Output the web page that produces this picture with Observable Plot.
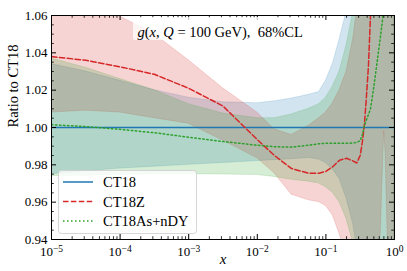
<!DOCTYPE html>
<html><head><meta charset="utf-8">
<script src="https://cdn.jsdelivr.net/npm/d3@7"></script>
<script src="https://cdn.jsdelivr.net/npm/@observablehq/plot@0.6"></script>
<style>
html,body{margin:0;padding:0;background:#fff;}
#chart{position:relative;width:407px;height:271px;}
#chart svg, #chart svg text{font-family:"Liberation Serif", serif !important;}
</style></head><body><div id="chart"></div>
<script>
// x grid (momentum fraction)
const xs = [1e-5, 3.16e-5, 1e-4, 3.16e-4, 1e-3, 3.16e-3, 0.01, 0.0178, 0.0316, 0.0562, 0.0794, 0.1, 0.126, 0.158, 0.2, 0.251, 0.282, 0.316, 0.339, 0.363, 0.389, 0.417, 0.447, 0.501, 0.562, 0.631, 0.708, 0.741, 0.776, 0.813, 0.851, 0.891, 1.0];

// CT18 band (ratio to CT18)
const ct18Hi = [1.034, 1.030, 1.025, 1.020, 1.016, 1.0135, 1.013, 1.014, 1.0155, 1.0175, 1.019, 1.025, 1.034, 1.047, 1.062, 1.08, 1.08, 1.08, 1.08, 1.08, 1.08, 1.08, 1.08, 1.08, 1.08, 1.08, 1.08, 1.08, 1.08, 1.08, 1.08, 1.08, 1.08];
const ct18Lo = [0.975, 0.9765, 0.978, 0.979, 0.980, 0.981, 0.982, 0.9825, 0.983, 0.9837, 0.9828, 0.981, 0.9775, 0.9725, 0.962, 0.948, 0.936, 0.92, 0.92, 0.92, 0.92, 0.92, 0.92, 0.92, 0.92, 0.92, 0.92, 0.92, 0.92, 0.92, 0.92, 0.92, 0.92];
const ct18Mid = [1, 1, 1, 1, 1, 1, 1, 1, 1, 1, 1, 1, 1, 1, 1, 1, 1, 1, 1, 1, 1, 1, 1, 1, 1, 1, 1, 1, 1, 1, 1, 1, 1];

// CT18Z
const ct18zMid = [1.038, 1.036, 1.0325, 1.0285, 1.021, 1.0115, 0.9935, 0.985, 0.978, 0.9755, 0.9755, 0.9765, 0.979, 0.9825, 0.9835, 0.982, 0.981, 0.985, 0.992, 1.001, 1.016, 1.033, 1.06, 1.09, null, null, null, null, null, null, null, null, null];
const ct18zHi = [1.068, 1.066, 1.0595, 1.050, 1.036, 1.021, 1.008, 0.999, 0.996, 1.001, 1.005, 1.008, 1.013, 1.020, 1.030, 1.048, 1.062, 1.08, 1.08, 1.08, 1.08, 1.08, 1.08, 1.08, 1.08, 1.08, 1.08, 1.08, 1.08, 1.08, 1.08, 1.08, 1.08];
const ct18zLo = [1.008, 1.009, 1.008, 1.005, 1.002, 0.993, 0.9835, 0.9755, 0.964, 0.961, 0.960, 0.958, 0.953, 0.943, 0.93, 0.92, 0.92, 0.92, 0.92, 0.92, 0.92, 0.92, 0.92, 0.92, 0.92, 0.944, 0.998, 0.986, 0.957, 0.928, 0.92, 0.92, 0.92];

// CT18As+nDY
const asMid = [1.0015, 1.0005, 0.999, 0.9972, 0.9948, 0.9925, 0.9905, 0.9897, 0.9895, 0.9905, 0.9913, 0.9915, 0.9915, 0.9915, 0.9915, 0.9917, 0.992, 0.993, 0.996, 1.001, 1.004, 1.007, 1.010, 1.022, 1.036, 1.050, 1.065, null, null, null, null, null, null];
const asHi = [1.037, 1.032, 1.026, 1.020, 1.0125, 1.0075, 1.005, 1.005, 1.007, 1.010, 1.0125, 1.016, 1.022, 1.030, 1.044, 1.062, 1.075, 1.08, 1.08, 1.08, 1.08, 1.08, 1.08, 1.08, 1.08, 1.08, 1.08, 1.08, 1.08, 1.08, 1.08, 1.08, 1.08];
const asLo = [0.974, 0.9742, 0.9745, 0.975, 0.975, 0.9748, 0.9745, 0.9735, 0.972, 0.971, 0.970, 0.968, 0.965, 0.960, 0.951, 0.938, 0.925, 0.92, 0.92, 0.92, 0.92, 0.92, 0.92, 0.92, 0.92, 0.92, 0.92, 0.92, 0.92, 0.92, 0.92, 0.92, 0.92];

const seriesNames = ["CT18", "CT18Z", "CT18As+nDY"];
const seriesColors = ["#1f77b4", "#d62728", "#2ca02c"];
const seriesDash = [null, "5.5,2.4", "1.5,2.5"];

const xMajor = [1e-5, 1e-4, 1e-3, 1e-2, 1e-1, 1];
const yMajor = [0.94, 0.96, 0.98, 1.00, 1.02, 1.04, 1.06];
const titleText = "g(x, Q = 100 GeV),  68%CL";
const yLabel = "Ratio to CT18";
const xLabel = "x";
const xMinor = [];
for (let d = -5; d < 0; d++) for (let k = 2; k <= 9; k++) xMinor.push(k * Math.pow(10, d));
const yMinor = d3.range(0, 25).filter(i => i % 4 !== 0).map(i => 0.94 + i * 0.005);

const bands = [
  {color: seriesColors[0], lo: ct18Lo, hi: ct18Hi, mid: ct18Mid, dash: seriesDash[0]},
  {color: seriesColors[1], lo: ct18zLo, hi: ct18zHi, mid: ct18zMid, dash: seriesDash[1]},
  {color: seriesColors[2], lo: asLo, hi: asHi, mid: asMid, dash: seriesDash[2]}
];
const rows = b => xs.map((x, i) => ({x, lo: b.lo[i], hi: b.hi[i], mid: b.mid[i]}));

const W = 407, H = 271, mL = 51, mR = 13, mT = 15, mB = 32;
const fw = W - mL - mR, fh = H - mT - mB;
const FONT = "Liberation Serif, serif";

const marks = [];
for (const b of bands) {
  marks.push(Plot.areaY(rows(b), {x: "x", y1: "lo", y2: "hi", fill: b.color, fillOpacity: 0.2,
    stroke: b.color, strokeOpacity: 0.2, strokeWidth: 0.8, clip: true}));
}
for (const b of bands) {
  marks.push(Plot.lineY(rows(b), {x: "x", y: "mid", stroke: b.color, strokeWidth: 1.5,
    strokeDasharray: b.dash || undefined, defined: d => d.mid != null, clip: true}));
}
marks.push(
  Plot.tickX(xMajor, {x: d => d, insetTop: fh - 5, stroke: "#000", strokeWidth: 1}),
  Plot.tickX(xMajor, {x: d => d, insetBottom: fh - 5, stroke: "#000", strokeWidth: 1}),
  Plot.tickX(xMinor, {x: d => d, insetTop: fh - 2.8, stroke: "#000", strokeWidth: 0.8}),
  Plot.tickX(xMinor, {x: d => d, insetBottom: fh - 2.8, stroke: "#000", strokeWidth: 0.8}),
  Plot.tickY(yMajor, {y: d => d, insetRight: fw - 5, stroke: "#000", strokeWidth: 1}),
  Plot.tickY(yMajor, {y: d => d, insetLeft: fw - 5, stroke: "#000", strokeWidth: 1}),
  Plot.tickY(yMinor, {y: d => d, insetRight: fw - 2.8, stroke: "#000", strokeWidth: 0.8}),
  Plot.tickY(yMinor, {y: d => d, insetLeft: fw - 2.8, stroke: "#000", strokeWidth: 0.8}),
  Plot.frame({stroke: "#000", strokeWidth: 1}),
  Plot.axisX({ticks: xMajor, tickSize: 0, tickPadding: 7, fontSize: 13, label: null,
    tickFormat: d => "10^" + Math.round(Math.log10(d))}),
  Plot.axisY({ticks: yMajor, tickSize: 0, tickPadding: 4, fontSize: 13, label: null, tickFormat: d => d.toFixed(2)}),
  Plot.text([yLabel], {frameAnchor: "left", dx: -38, rotate: -90, fontSize: 14.5}),
  Plot.text([xLabel], {frameAnchor: "bottom", dy: 24, fontSize: 15, fontStyle: "italic"}),
  Plot.text([titleText], {frameAnchor: "top-left", dx: 86, dy: 11, textAnchor: "start", fontSize: 14.5})
);

const chart = Plot.plot({
  width: W, height: H, marginLeft: mL, marginRight: mR, marginTop: mT, marginBottom: mB,
  style: {background: "#fff", color: "#000", fontFamily: FONT},
  x: {type: "log", domain: [1e-5, 1], label: null},
  y: {domain: [0.94, 1.06], label: null},
  marks
});
document.getElementById("chart").appendChild(chart);

const svg = d3.select(chart);
svg.selectAll("text").each(function() {
  const t = d3.select(this);
  t.attr("font-family", FONT);
  const s = this.textContent;
  const m = /^10\^(-?\d+)$/.exec(s);
  if (m) {
    t.text("10");
    t.append("tspan").attr("dy", "-0.42em").attr("font-size", "9.5px").text(m[1].replace("-", "\u2212"));
  } else if (s === titleText) {
    t.text("");
    t.append("tspan").attr("font-style", "italic").text("g");
    t.append("tspan").text("(");
    t.append("tspan").attr("font-style", "italic").text("x");
    t.append("tspan").text(", ");
    t.append("tspan").attr("font-style", "italic").text("Q");
    t.append("tspan").text(" = 100 GeV),  68%CL");
    const g = this.parentNode;
    const r = document.createElementNS("http://www.w3.org/2000/svg", "rect");
    r.setAttribute("x", 133); r.setAttribute("y", 17); r.setAttribute("width", 177); r.setAttribute("height", 23);
    r.setAttribute("rx", 2); r.setAttribute("fill", "#fff"); r.setAttribute("fill-opacity", 0.75);
    g.parentNode.insertBefore(r, g);
  }
});

// legend
const lg = svg.append("g");
lg.append("rect").attr("x", 58.5).attr("y", 170.5).attr("width", 138).attr("height", 63).attr("rx", 3)
  .attr("fill", "#fff").attr("fill-opacity", 0.8).attr("stroke", "#ccc").attr("stroke-opacity", 0.8);
const rowY = [182, 201.5, 221];
seriesNames.forEach((n, i) => {
  lg.append("line").attr("x1", 63).attr("x2", 93).attr("y1", rowY[i]).attr("y2", rowY[i])
    .attr("stroke", seriesColors[i]).attr("stroke-width", 1.5)
    .attr("stroke-dasharray", seriesDash[i] || null);
  lg.append("text").attr("x", 103).attr("y", rowY[i]).attr("dy", "0.35em")
    .attr("font-family", FONT).attr("font-size", 14.5).attr("text-anchor", "start").attr("fill", "#000").text(n);
});
</script></body></html>
